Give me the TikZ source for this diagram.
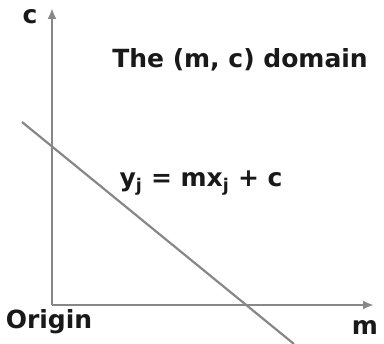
\documentclass[tikz,border=0pt]{standalone}
\usepackage{fontspec}
\setmainfont{DejaVu Sans}
\usetikzlibrary{arrows.meta}
\definecolor{axisgrey}{RGB}{135,135,135}
\definecolor{txt}{RGB}{25,25,25}
\begin{document}
\begin{tikzpicture}[x=1pt,y=-1pt,
  axis/.style={draw=axisgrey,line width=2.6pt,-{Latex[length=11pt,width=9pt]}},
  lbl/.style={text=txt,font=\bfseries\fontsize{25}{28}\selectfont,inner sep=0pt}]
\useasboundingbox (0,0) rectangle (384,344);
\coordinate (O) at (52,305);
\coordinate (ctop) at (52,8);
\coordinate (mend) at (374,305);
\coordinate (l1) at (22,122);
\coordinate (l2) at (294,344);
\draw[axis] (O) -- (ctop);
\draw[axis] (O) -- (mend);
\draw[draw=axisgrey,line width=2.2pt] (l1) -- (l2);
\node[lbl] (c) at (30,17) {c};
\node[lbl] (title) at (240,60) {The (m, c) domain};
\node[lbl] (eq) at (201,183) {y\textsubscript{j} = mx\textsubscript{j} + c};
\node[lbl] (origin) at (49,322) {Origin};
\node[lbl] (m) at (365,328) {m};
\end{tikzpicture}
\end{document}
